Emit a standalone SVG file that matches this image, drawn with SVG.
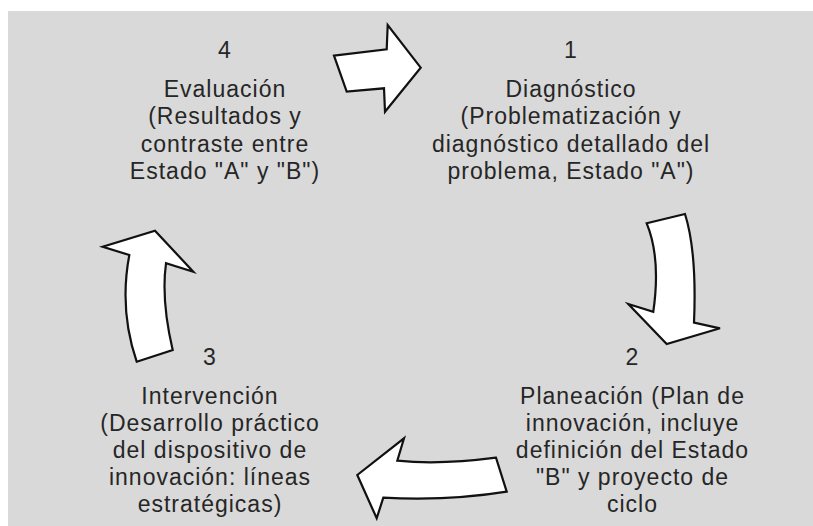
<svg xmlns="http://www.w3.org/2000/svg" width="813" height="526" viewBox="0 0 813 526">
<style>
.t{font-family:"Liberation Sans",Arial,sans-serif;font-size:23px;letter-spacing:1px;fill:#262626;text-anchor:middle}
.a{fill:#ffffff;stroke:#111111;stroke-width:2.2;stroke-linejoin:miter}
</style>
<rect x="0" y="0" width="813" height="526" fill="#ffffff"/>
<rect x="8" y="11" width="805" height="515" fill="#d9d9d9"/>
<g id="node4">
<text class="t" x="225" y="58">4</text>
<text class="t" x="225" y="97">Evaluación</text>
<text class="t" x="225" y="124">(Resultados y</text>
<text class="t" x="225" y="151.5">contraste entre</text>
<text class="t" x="225" y="179">Estado "A" y "B")</text>
</g>
<g id="node1">
<text class="t" x="571" y="58">1</text>
<text class="t" x="571" y="97">Diagnóstico</text>
<text class="t" x="571" y="124">(Problematización y</text>
<text class="t" x="571" y="151.5">diagnóstico detallado del</text>
<text class="t" x="571" y="179">problema, Estado "A")</text>
</g>
<g id="node3">
<text class="t" x="210" y="365">3</text>
<text class="t" x="210" y="403.5">Intervención</text>
<text class="t" x="210" y="430.5">(Desarrollo práctico</text>
<text class="t" x="210" y="458">del dispositivo de</text>
<text class="t" x="210" y="485">innovación: líneas</text>
<text class="t" x="210" y="512">estratégicas)</text>
</g>
<g id="node2">
<text class="t" x="632.5" y="365">2</text>
<text class="t" x="632.5" y="403.5">Planeación (Plan de</text>
<text class="t" x="632.5" y="430.5">innovación, incluye</text>
<text class="t" x="632.5" y="458">definición del Estado</text>
<text class="t" x="632.5" y="485">"B" y proyecto de</text>
<text class="t" x="632.5" y="512">ciclo</text>
</g>
<g id="connectors">
<path class="a" d="M334,55.7 L386.7,49.3 L387.7,25 L420.7,67.7 L385,111.7 L384,88.3 L346.7,91.7 Z"/>
<path class="a" d="M646.7,223.3 L685,214 Q697,252 694,322.7 L720,328.3 L666.7,344 L628.3,304 L653.3,311.7 Q661,258 646.7,223.3 Z"/>
<path class="a" d="M496,457.7 Q440,465 397.3,460.7 L404,438.3 L357.3,475 L376.7,518.3 L383.3,497.7 Q450,501 506.7,491.7 Z"/>
<path class="a" d="M136.7,361.7 L172.7,350 Q161,300 166,263.3 L193.3,271.7 L155,230.7 L102.7,246.7 L129.3,255 Q119,310 136.7,361.7 Z"/>
</g>
</svg>
